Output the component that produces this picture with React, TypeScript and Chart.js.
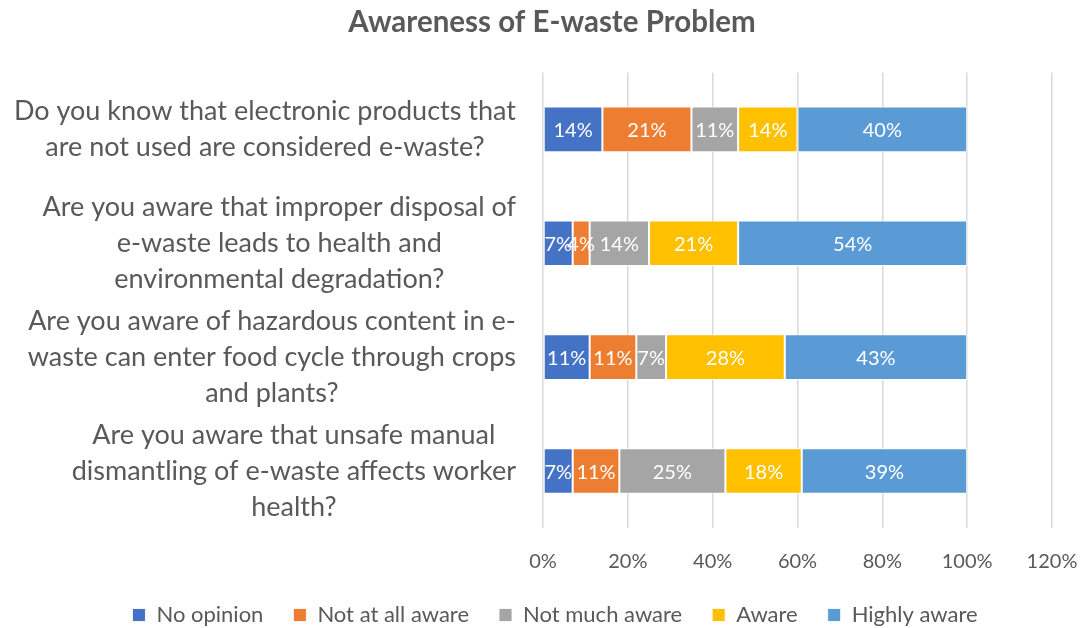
import React, { useEffect, useRef } from "react";
import { Chart, registerables } from "chart.js";

Chart.register(...registerables);

const categories: string[][] = [
  ["Do you know that electronic products that", "are not used are considered e-waste?"],
  ["Are you aware that improper disposal of", "e-waste leads to health and", "environmental degradation?"],
  ["Are you aware of hazardous content in e-", "waste can enter food cycle through crops", "and plants?"],
  ["Are you aware that unsafe manual", "dismantling of e-waste affects worker", "health?"],
];

const seriesNames = ["No opinion", "Not at all aware", "Not much aware", "Aware", "Highly aware"];
const noOpinion = [14, 7, 11, 7];
const notAtAllAware = [21, 4, 11, 11];
const notMuchAware = [11, 14, 7, 25];
const aware = [14, 21, 28, 18];
const highlyAware = [40, 54, 43, 39];
const seriesColors = ["#4472C4", "#ED7D31", "#A5A5A5", "#FFC000", "#5B9BD5"];

const xTicks = [0, 20, 40, 60, 80, 100, 120];

const FONT = "Lato, 'Open Sans', sans-serif";
const TEXT = "#595959";
const Y_LABEL_PAD = 27;

const dataLabelPlugin = {
  id: "segLabels",
  afterDatasetsDraw(chart: any) {
    const ctx = chart.ctx;
    ctx.save();
    ctx.font = `20px ${FONT}`;
    ctx.fillStyle = "#ffffff";
    ctx.textAlign = "center";
    ctx.textBaseline = "middle";
    chart.data.datasets.forEach((ds: any, di: number) => {
      const meta = chart.getDatasetMeta(di);
      meta.data.forEach((el: any, i: number) => {
        const p = el.getProps(["x", "y", "base"], true);
        const cx = (p.x + p.base) / 2;
        ctx.fillText(`${ds.data[i]}%`, cx, p.y + 1);
      });
    });
    ctx.restore();
  },
};

// Excel-style: each label block right-aligned to the axis, lines centred inside the block
const labelBlockPlugin = {
  id: "labelBlocks",
  afterLayout(chart: any) {
    if (chart.titleBlock) {
      chart.titleBlock.left += 26;
      chart.titleBlock.right += 26;
    }
    if (chart.legend) {
      chart.legend.left += 29;
      chart.legend.right += 29;
    }
  },
  beforeDraw(chart: any) {
    const s = chart.scales.y;
    if (!s || !s.getLabelItems) return;
    const items = s.getLabelItems(chart.chartArea);
    const ctx = chart.ctx;
    items.forEach((it: any) => {
      ctx.save();
      ctx.font = it.font.string;
      const lines = Array.isArray(it.label) ? it.label : [it.label];
      const w = Math.max(...lines.map((l: string) => ctx.measureText(l).width));
      ctx.restore();
      it.options.translation = [s.right - Y_LABEL_PAD - w / 2, it.options.translation[1]];
      it.options.textAlign = "center";
    });
  },
};

export default function App() {
  const ref = useRef<HTMLCanvasElement | null>(null);
  useEffect(() => {
    if (!ref.current) return;
    const values = [noOpinion, notAtAllAware, notMuchAware, aware, highlyAware];
    const chart = new Chart(ref.current, {
      type: "bar",
      data: {
        labels: categories,
        datasets: values.map((v, i) => ({
          label: seriesNames[i],
          data: v,
          backgroundColor: seriesColors[i],
          borderColor: "rgba(255,255,255,0.85)",
          borderWidth: 1,
          borderSkipped: false,
          barPercentage: 0.4,
          categoryPercentage: 1,
        })),
      },
      options: {
        indexAxis: "y",
        responsive: false,
        animation: false,
        layout: { padding: { left: 0, right: 34, top: 0, bottom: -8 } },
        scales: {
          x: {
            stacked: true,
            min: 0,
            max: 120,
            afterBuildTicks: (s: any) => {
              s.ticks = xTicks.map((v) => ({ value: v }));
            },
            afterFit: (s: any) => {
              s.paddingLeft = 0;
              s.paddingRight = 0;
              s.height = 46;
            },
            ticks: {
              callback: (v: any) => `${v}%`,
              color: TEXT,
              font: { family: FONT, size: 20 },
              padding: 22,
              maxRotation: 0,
            },
            grid: { color: "#D9D9D9", lineWidth: 1.5, drawTicks: false },
            border: { display: false },
          },
          y: {
            stacked: true,
            afterFit: (s: any) => {
              s.width = 543;
              s.paddingTop = 0;
              s.paddingBottom = 0;
            },
            ticks: {
              autoSkip: false,
              crossAlign: "center",
              color: TEXT,
              font: { family: FONT, size: 27, lineHeight: 1.333 },
              padding: Y_LABEL_PAD,
            },
            grid: { display: false, drawTicks: false },
            border: { display: false },
          },
        },
        plugins: {
          title: {
            display: true,
            text: "Awareness of E-waste Problem",
            color: TEXT,
            font: { family: FONT, size: 29.5, weight: "bold" },
            padding: { top: 5, bottom: 32 },
          },
          legend: {
            position: "bottom",
            labels: {
              usePointStyle: true,
              pointStyle: "rect",
              boxWidth: 13,
              boxHeight: 13,
              color: TEXT,
              font: { family: FONT, size: 22 },
              padding: 30,
            },
          },
          tooltip: { enabled: false },
        },
      },
      plugins: [dataLabelPlugin, labelBlockPlugin],
    });
    return () => chart.destroy();
  }, []);
  return (
    <div style={{ position: "fixed", left: 0, top: 0, width: 1086, height: 628, background: "#fff" }}>
      <canvas ref={ref} width={1086} height={628} />
    </div>
  );
}
